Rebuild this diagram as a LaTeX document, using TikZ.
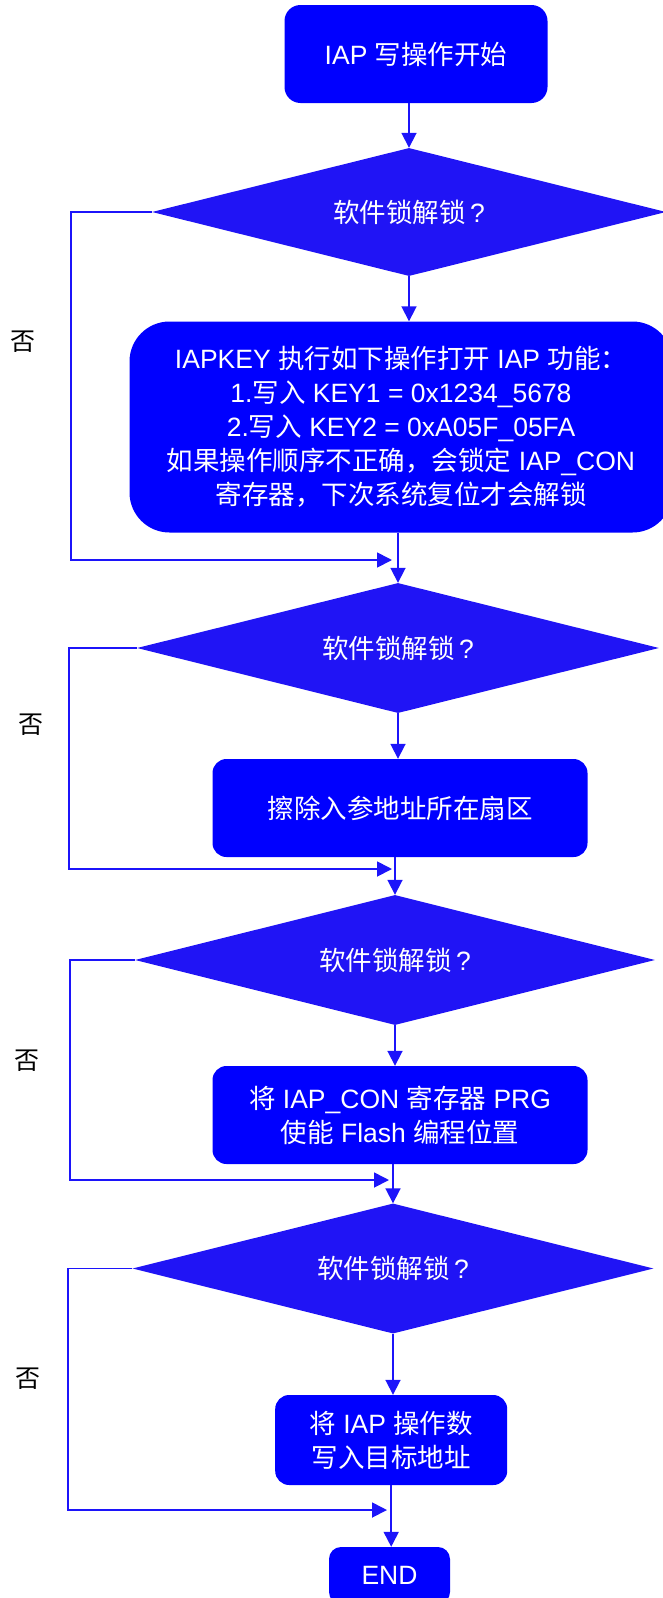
\documentclass[tikz,border=0pt]{standalone}
\usepackage{fontspec}
\setmainfont{Liberation Sans}
\newfontfamily\cjk{Noto Sans CJK SC}
\newcommand\zh[1]{{\cjk #1}}
\newcommand\unlockq{\raisebox{-4pt}{\zh{软件锁解锁}\,?}}
\usetikzlibrary{shapes.geometric,arrows.meta}
\definecolor{boxblue}{RGB}{0,0,255}
\definecolor{diamblue}{RGB}{32,20,245}
\definecolor{lineblue}{RGB}{28,20,250}
\tikzset{
  procbox/.style={fill=boxblue, text=white, rounded corners=#1, inner sep=0pt, align=center,
    font=\fontsize{26.5}{34}\selectfont},
  procbox/.default=15pt,
  decbox/.style={diamond, fill=diamblue, text=white, inner sep=0pt, aspect=4,
    font=\fontsize{26.5}{34}\selectfont},
  conn/.style={draw=lineblue, line width=1.8pt},
  arr/.style={conn, -{Triangle[length=15pt,width=15pt]}},
  nolabel/.style={text=black, font=\fontsize{25}{30}\selectfont\cjk},
}
\begin{document}
\begin{tikzpicture}[x=1pt,y=-1pt]
\useasboundingbox (0,0) rectangle (663,1598);
\clip (0,0) rectangle (663,1598);
% nodes
\node[procbox=16pt, minimum width=263pt, minimum height=98pt] (start) at (416,54) {IAP \zh{写操作开始}};
\node[decbox, minimum width=514pt, minimum height=128pt] (d1) at (409,212) {\unlockq};
\node[procbox=40pt, minimum width=543pt, minimum height=211pt] (box2) at (401,427)
  {IAPKEY \zh{执行如下操作打开} IAP \zh{功能：}\\
   1.\zh{写入} KEY1 = 0x1234\_5678\\
   2.\zh{写入} KEY2 = 0xA05F\_05FA\\
   \zh{如果操作顺序不正确，会锁定} IAP\_CON\\
   \zh{寄存器，下次系统复位才会解锁}};
\node[decbox, minimum width=522pt, minimum height=130pt] (d2) at (398,648) {\unlockq};
\node[procbox=14pt, minimum width=375pt, minimum height=98pt] (box3) at (400,808) {\zh{擦除入参地址所在扇区}};
\node[decbox, minimum width=520pt, minimum height=130pt] (d3) at (395,960) {\unlockq};
\node[procbox=14pt, minimum width=375pt, minimum height=98pt] (box4) at (400,1115)
  {\zh{将} IAP\_CON \zh{寄存器} PRG\\ \zh{使能} Flash \zh{编程位置}};
\node[decbox, minimum width=521pt, minimum height=130pt] (d4) at (393,1268.5) {\unlockq};
\node[procbox=14pt, minimum width=232pt, minimum height=90pt] (box5) at (391.2,1440)
  {\zh{将} IAP \zh{操作数}\\ \zh{写入目标地址}};
\node[procbox=12pt, minimum width=121pt, minimum height=57pt] (end) at (389.5,1575.5) {END};
% labels
\node[nolabel] (n1) at (22.5,342) {否};
\node[nolabel] (n2) at (30.5,725) {否};
\node[nolabel] (n3) at (26.5,1061) {否};
\node[nolabel] (n4) at (27.5,1379) {否};
% merge points
\coordinate (m1) at (392,560);
\coordinate (m2) at (392,869);
\coordinate (m3) at (389,1180);
\coordinate (m4) at (387,1510);
% main flow
\draw[arr] (start.south -| d1.north) -- (d1.north);
\draw[arr] (d1.south) -- (d1.south |- box2.north);
\draw[arr] (box2.south -| d2.north) -- (d2.north);
\draw[arr] (d2.south) -- (d2.south |- box3.north);
\draw[arr] (box3.south -| d3.north) -- (d3.north);
\draw[arr] (d3.south) -- (d3.south |- box4.north);
\draw[arr] (box4.south -| d4.north) -- (d4.north);
\draw[arr] (d4.south) -- (d4.south |- box5.north);
\draw[arr] (box5.south) -- (box5.south |- end.north);
% no-loops
\draw[arr] (d1.west) -- ++(-80.7,0) |- (m1);
\draw[arr] (d2.west) -- ++(-68,0) |- (m2);
\draw[arr] (d3.west) -- ++(-65,0) |- (m3);
\draw[arr] (d4.west) -- ++(-64.5,0) |- (m4);
\end{tikzpicture}
\end{document}
